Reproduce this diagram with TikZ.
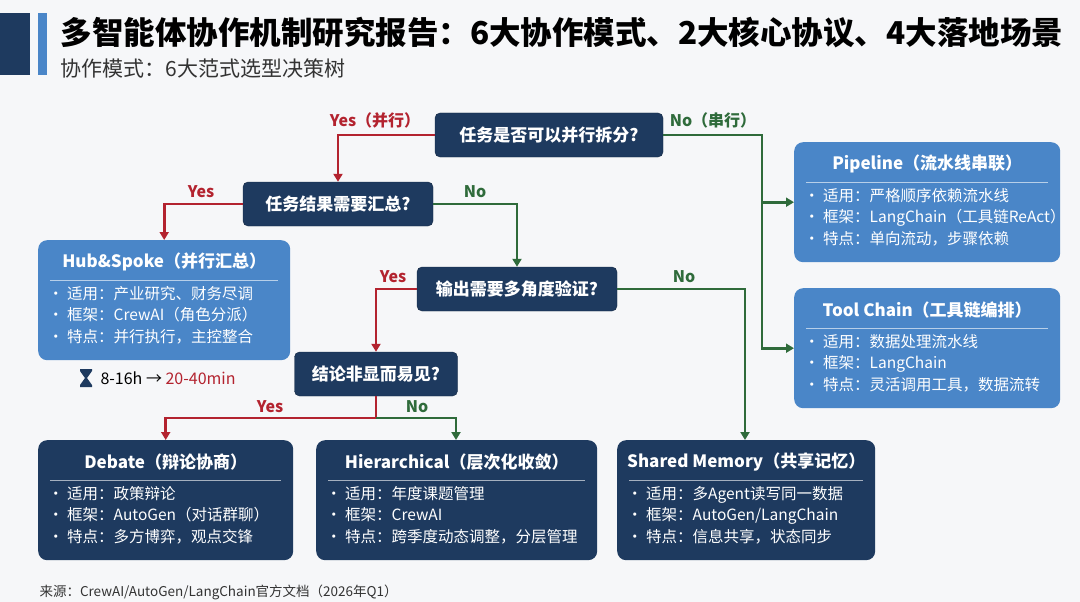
\documentclass[tikz,border=0pt]{standalone}
\usepackage{fontspec}
\setmainfont{Noto Sans CJK SC}
\usetikzlibrary{arrows.meta}
\definecolor{navy}{HTML}{1E3A5F}
\definecolor{skyblue}{HTML}{4A86C8}
\definecolor{yesred}{HTML}{B3232F}
\definecolor{nogreen}{HTML}{2F6B3B}
\definecolor{pagebg}{HTML}{F6F7F9}
\tikzset{
  question/.style = {rectangle, rounded corners=5pt, fill=navy, draw=navy!70!black,
    text=white, font=\fontsize{17}{20}\selectfont\bfseries, inner sep=0pt},
  card/.style = {rectangle, rounded corners=9pt, anchor=north west, inner sep=0pt},
  cardtitle/.style = {text=white, font=\fontsize{17}{20}\selectfont\bfseries},
  cardbody/.style = {text=white, align=left, anchor=north west,
    font=\fontsize{15.5}{21.5}\selectfont, inner sep=0pt},
  yesline/.style = {yesred, line width=2.6pt, -{Triangle[length=8pt,width=9pt]}},
  noline/.style = {nogreen, line width=2.6pt, -{Triangle[length=8pt,width=9pt]}},
  yeslabel/.style = {text=yesred, font=\fontsize{16}{18}\selectfont\bfseries},
  nolabel/.style = {text=nogreen, font=\fontsize{16}{18}\selectfont\bfseries}
}
% mode card: name, colour, x, y, width, title, body
\newcommand\modecard[7]{
  \node[card, fill=#2, minimum width=#5pt, minimum height=120pt] (#1) at (#3,#4) {};
  \node[cardtitle] (#1T) at ([yshift=-22pt]#1.north) {#6};
  \draw[white!60!#2, line width=0.8pt] ([xshift=12pt,yshift=-40pt]#1.north west) -- ([xshift=-12pt,yshift=-40pt]#1.north east);
  \node[cardbody] (#1B) at ([xshift=10pt,yshift=-46pt]#1.north west) {#7};
}
\begin{document}
\begin{tikzpicture}[x=1pt,y=-1pt]
  \fill[pagebg] (0,0) rectangle (1080,602);
  \useasboundingbox (0,0) rectangle (1080,602);
  % header
  \fill[navy] (0,13) rectangle (30,75);
  \fill[skyblue] (38,13) rectangle (47,75);
  \node[anchor=west, font=\fontsize{31.5}{34}\selectfont\bfseries] (title) at (57,33)
    {多智能体协作机制研究报告：6大协作模式、2大核心协议、4大落地场景};
  \node[anchor=west, text=black!80, font=\fontsize{21}{24}\selectfont] (subtitle) at (57,68)
    {协作模式：6大范式选型决策树};
  % questions
  \node[question, minimum width=228pt, minimum height=44pt] (q1) at (549,135) {任务是否可以并行拆分?};
  \node[question, minimum width=190pt, minimum height=44pt] (q2) at (338,204) {任务结果需要汇总?};
  \node[question, minimum width=200pt, minimum height=44pt] (q3) at (517,289) {输出需要多角度验证?};
  \node[question, minimum width=163pt, minimum height=44pt] (q4) at (376,374) {结论非显而易见?};
  % cards
  \modecard{hub}{skyblue}{38}{240}{252}{Hub\&Spoke（并行汇总）}
    {•\ 适用：产业研究、财务尽调\\•\ 框架：CrewAI（角色分派）\\•\ 特点：并行执行，主控整合}
  \modecard{pipe}{skyblue}{794}{142}{266}{Pipeline（流水线串联）}
    {•\ 适用：严格顺序依赖流水线\\•\ 框架：LangChain（工具链ReAct）\\•\ 特点：单向流动，步骤依赖}
  \modecard{tool}{skyblue}{794}{288}{266}{Tool Chain（工具链编排）}
    {•\ 适用：数据处理流水线\\•\ 框架：LangChain\\•\ 特点：灵活调用工具，数据流转}
  \modecard{debate}{navy}{38}{440}{255}{Debate（辩论协商）}
    {•\ 适用：政策辩论\\•\ 框架：AutoGen（对话群聊）\\•\ 特点：多方博弈，观点交锋}
  \modecard{hier}{navy}{316}{440}{281}{Hierarchical（层次化收敛）}
    {•\ 适用：年度课题管理\\•\ 框架：CrewAI\\•\ 特点：跨季度动态调整，分层管理}
  \modecard{shared}{navy}{617}{440}{258}{Shared Memory（共享记忆）}
    {•\ 适用：多Agent读写同一数据\\•\ 框架：AutoGen/LangChain\\•\ 特点：信息共享，状态同步}
  % hourglass + time gain
  \fill[navy] (80,369) -- (92,369) -- (92,371) -- (87,378) -- (92,385) -- (92,387)
    -- (80,387) -- (80,385) -- (85,378) -- (80,371) -- cycle;
  \node[anchor=west, font=\fontsize{16}{18}\selectfont] (gain) at (97,378)
    {8-16h → \textcolor{yesred}{20-40min}};
  % connectors
  \draw[yesline] (q1.west) -| (q2.north);
  \node[yeslabel] (l1) at (375,120) {Yes（并行）};
  \coordinate (split1) at (762,135);
  \draw[noline] (q1.east) -- (split1) |- (tool.west);
  \draw[noline] (split1 |- pipe.west) -- (pipe.west);
  \node[nolabel] (l2) at (713,120) {No（串行）};
  \draw[yesline] (q2.west) -| (hub.north);
  \node[yeslabel] (l3) at (201,192) {Yes};
  \draw[noline] (q2.east) -| (q3.north);
  \node[nolabel] (l4) at (475,192) {No};
  \draw[yesline] (q3.west) -| (q4.north);
  \node[yeslabel] (l5) at (393,277) {Yes};
  \draw[noline] (q3.east) -| (shared.north -| 745,0);
  \node[nolabel] (l6) at (684,277) {No};
  \coordinate (split2) at (376,418);
  \draw[yesred, line width=2.6pt] (q4.south) -- (split2);
  \draw[yesline] (split2) -| (debate.north);
  \draw[noline] (split2) -| (hier.north -| 456,0);
  \node[yeslabel] (l7) at (270,407) {Yes};
  \node[nolabel] (l8) at (417,407) {No};
  \node[anchor=west, text=black!80, font=\fontsize{13.5}{16}\selectfont] (src) at (36,592)
    {来源：CrewAI/AutoGen/LangChain官方文档（2026年Q1）};
\end{tikzpicture}
\end{document}
